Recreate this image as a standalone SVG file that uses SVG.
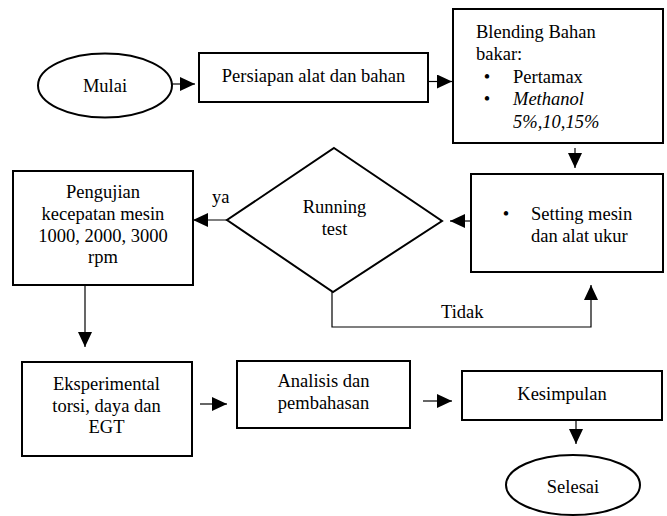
<svg xmlns="http://www.w3.org/2000/svg" width="667" height="516" viewBox="0 0 667 516">
<defs>
<marker id="ah" markerUnits="userSpaceOnUse" markerWidth="16" markerHeight="14" refX="15" refY="7" orient="auto">
<path d="M0,0 L15,7 L0,14 z" fill="#000"/>
</marker>
<style>
.box{fill:#fff;stroke:#000;stroke-width:2}
.t{font-family:"Liberation Serif","Times New Roman",serif;font-size:18.5px;fill:#000}
.c{text-anchor:middle}
.i{font-style:italic}
.con{fill:none;stroke:#000;stroke-width:1.2}
.arr{marker-end:url(#ah)}
</style>
</defs>
<rect width="667" height="516" fill="#fff"/>
<g id="connectors">
<line class="con arr" x1="172" y1="84" x2="195" y2="84"/>
<line class="con arr" x1="428" y1="81.5" x2="452" y2="81.5"/>
<line class="con arr" x1="575" y1="148" x2="575" y2="168"/>
<line class="con arr" x1="471" y1="221" x2="450" y2="221"/>
<line class="con arr" x1="227" y1="220" x2="193" y2="220"/>
<polyline class="con arr" points="332,292 332,327 591,327 591,285"/>
<line class="con arr" x1="85" y1="285" x2="85" y2="347"/>
<line class="con arr" x1="200" y1="404" x2="227" y2="404"/>
<line class="con arr" x1="423" y1="401" x2="452" y2="401"/>
<line class="con arr" x1="576" y1="420" x2="576" y2="444"/>
<text class="t" x="212" y="203">ya</text>
<text class="t" x="441" y="318">Tidak</text>
</g>
<g id="mulai">
<ellipse class="box" cx="105" cy="85.5" rx="67" ry="32"/>
<text class="t c" x="105" y="92">Mulai</text>
</g>
<g id="persiapan">
<rect class="box" x="199" y="53" width="229" height="49"/>
<text class="t c" x="313.5" y="82">Persiapan alat dan bahan</text>
</g>
<g id="blending">
<rect class="box" x="453" y="9" width="210" height="134"/>
<text class="t" x="476" y="38">Blending Bahan</text>
<text class="t" x="476" y="60">bakar:</text>
<text class="t c" x="487" y="83">•</text>
<text class="t" x="513" y="83">Pertamax</text>
<text class="t c" x="487" y="105">•</text>
<text class="t i" x="513" y="105">Methanol</text>
<text class="t i" x="513" y="128">5%,10,15%</text>
</g>
<g id="setting">
<rect class="box" x="471" y="174" width="192" height="98"/>
<text class="t c" x="506" y="220">•</text>
<text class="t" x="531" y="220">Setting mesin</text>
<text class="t" x="531" y="242">dan alat ukur</text>
</g>
<g id="running">
<polygon class="box" points="334,148 442,221 333,292 227,220"/>
<text class="t c" x="334.5" y="213">Running</text>
<text class="t c" x="334.5" y="235">test</text>
</g>
<g id="pengujian">
<rect class="box" x="13" y="171" width="180" height="114"/>
<text class="t c" x="103" y="198">Pengujian</text>
<text class="t c" x="103" y="220">kecepatan mesin</text>
<text class="t c" x="103" y="241.5">1000, 2000, 3000</text>
<text class="t c" x="103" y="263">rpm</text>
</g>
<g id="eksperimental">
<rect class="box" x="22" y="362" width="170" height="94"/>
<text class="t c" x="106.5" y="390">Eksperimental</text>
<text class="t c" x="106.5" y="412">torsi, daya dan</text>
<text class="t c" x="106.5" y="433">EGT</text>
</g>
<g id="analisis">
<rect class="box" x="237" y="361" width="173" height="67"/>
<text class="t c" x="323.5" y="387">Analisis dan</text>
<text class="t c" x="323.5" y="409">pembahasan</text>
</g>
<g id="kesimpulan">
<rect class="box" x="462" y="371" width="200" height="49"/>
<text class="t c" x="562" y="400">Kesimpulan</text>
</g>
<g id="selesai">
<ellipse class="box" cx="573" cy="485" rx="67" ry="30"/>
<text class="t c" x="573" y="493">Selesai</text>
</g>
</svg>
